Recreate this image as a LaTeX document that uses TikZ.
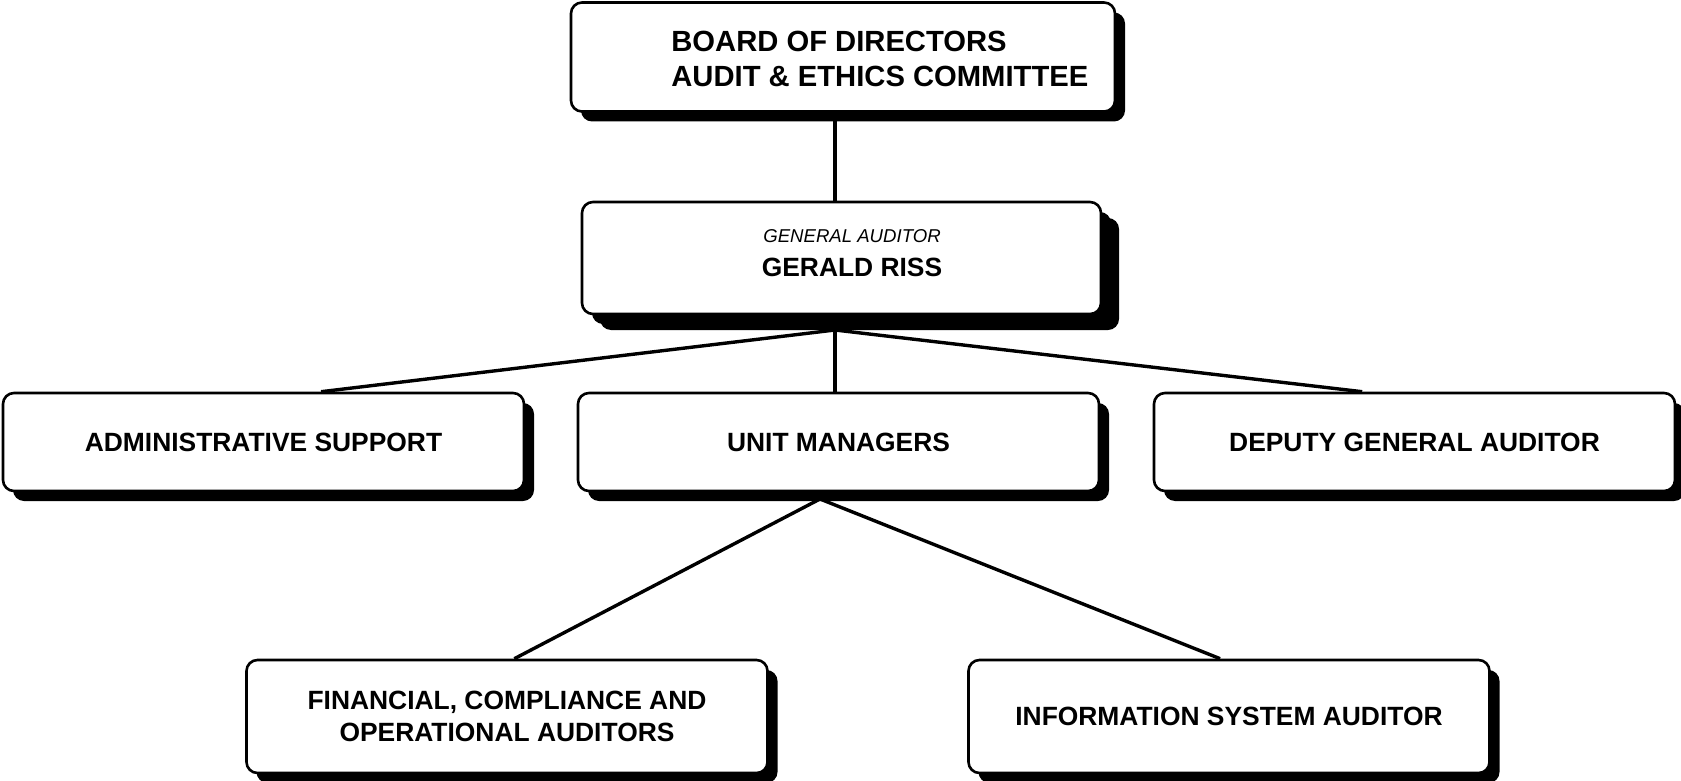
\documentclass[tikz,border=0pt]{standalone}
\usepackage{fontspec}
\setmainfont{Liberation Sans}
\usetikzlibrary{shadows,calc}

\tikzset{
  orgbox/.style={draw, line width=1.3pt, fill=white, rounded corners=5.5pt,
    minimum width=260.5pt, minimum height=49pt, inner sep=0pt, align=center,
    font=\bfseries\fontsize{13.2}{16}\selectfont,
    drop shadow={shadow xshift=5pt, shadow yshift=-5pt, shadow scale=1, opacity=1, fill=black}},
  link/.style={line width=1.7pt},
}

\begin{document}
\begin{tikzpicture}[x=0.5pt, y=-0.5pt]
  \useasboundingbox (0,0) rectangle (1681,781);

  % top
  \node[orgbox, minimum width=272pt, minimum height=54.5pt] (board) at (843,57) {};
  \node[anchor=west, align=left, inner sep=0pt, font=\bfseries\fontsize{14.6}{17.7}\selectfont]
    (boardtxt) at (671,59) {BOARD OF DIRECTORS\\AUDIT \& ETHICS COMMITTEE};

  \node[orgbox, minimum width=259.5pt, minimum height=56pt,
    drop shadow={shadow xshift=9pt, shadow yshift=-8pt, shadow scale=1, opacity=1, fill=black}]
    (ga) at (841.5,258) {};
  \node[align=center, inner sep=0pt] (gatxt) at (852,253)
    {{\itshape\fontsize{9.3}{11}\selectfont GENERAL AUDITOR}\\[5pt]
     {\bfseries\fontsize{13.2}{16}\selectfont GERALD RISS}};

  % middle row
  \node[orgbox] (admin) at (263.5,442) {ADMINISTRATIVE SUPPORT};
  \node[orgbox] (unit) at (838.5,442) {UNIT MANAGERS};
  \node[orgbox] (deputy) at (1414.5,442) {DEPUTY GENERAL AUDITOR};

  % bottom row
  \node[orgbox, minimum height=56.5pt] (fin) at (507,716.5) {FINANCIAL, COMPLIANCE AND\\OPERATIONAL AUDITORS};
  \node[orgbox, minimum height=56.5pt] (info) at (1229,716.5) {INFORMATION SYSTEM AUDITOR};

  % lines
  \coordinate (trunk) at (835,330);
  \coordinate (hub) at (820,499);
  \draw[link] (board.south -| trunk) -- (ga.north -| trunk);
  \draw[link] (trunk) -- ($(admin.north west)!0.61!(admin.north east)$);
  \draw[link] (trunk) -- (unit.north -| trunk);
  \draw[link] (trunk) -- ($(deputy.north west)!0.40!(deputy.north east)$);
  \draw[link] (hub) -- ($(fin.north west)!0.514!(fin.north east)$);
  \draw[link] (hub) -- ($(info.north west)!0.483!(info.north east)$);
\end{tikzpicture}
\end{document}
